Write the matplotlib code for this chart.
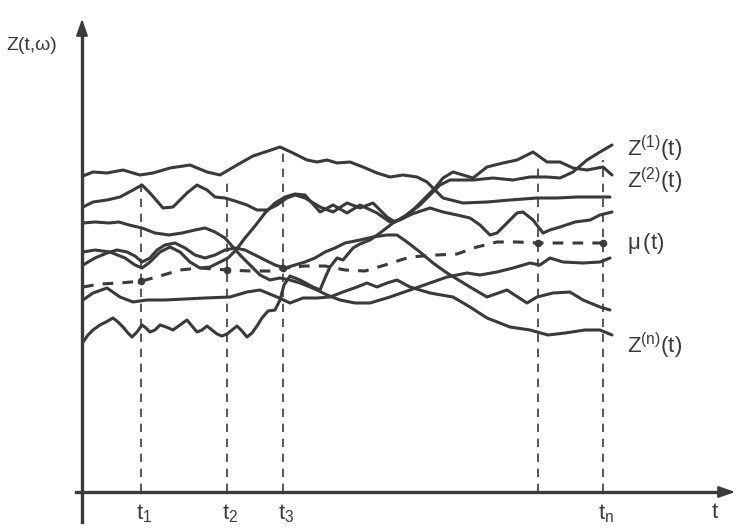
import numpy as np
import matplotlib
matplotlib.use("Agg")
import matplotlib.pyplot as plt

plt.rcParams['font.family'] = ['Liberation Sans', 'DejaVu Sans']
plt.rcParams['mathtext.fontset'] = 'custom'
plt.rcParams['mathtext.rm'] = 'Liberation Sans'
plt.rcParams['mathtext.it'] = 'Liberation Sans'

# ---- realisations Z^(k)(t): time values and process values ----
c1_t = [83, 93, 107, 123, 140, 153, 170, 190, 207, 220, 237, 253, 265, 280, 293, 307, 317, 327, 337, 350, 363, 377, 390, 403, 417, 427, 435, 443, 463, 487, 510, 537, 557, 577, 610]
c1_z = [316, 320, 319, 322, 317, 319, 324, 327, 320, 317, 327, 336, 340, 345, 339, 332, 330, 332, 329, 330, 325, 319, 315, 317, 315, 310, 302, 294, 289, 290, 292, 294, 294, 295, 295]

c2_t = [83, 93, 107, 120, 133, 142, 150, 163, 173, 187, 197, 207, 215, 225, 235, 247, 257, 267, 277, 287, 295, 305, 320, 333, 347, 360, 373, 387, 395, 405, 415, 425, 435, 443, 453, 463, 473, 487, 503, 517, 533, 547, 560, 573, 587, 603, 612]
c2_z = [285, 290, 292, 295, 302, 307, 299, 284, 285, 299, 307, 302, 295, 294, 291, 287, 282, 282, 287, 294, 297, 294, 285, 280, 289, 284, 289, 275, 270, 276, 284, 294, 304, 314, 320, 317, 314, 325, 329, 332, 340, 330, 330, 324, 322, 325, 317]

c3_t = [83, 95, 109, 119, 129, 142, 155, 169, 182, 195, 205, 215, 225, 232, 240, 250, 260, 270, 280, 290, 300, 310, 317, 327, 340, 355, 370, 390, 410, 430, 447, 467, 480, 497, 513, 530, 540, 550, 563, 583, 600, 610]
c3_z = [269, 270, 269, 270, 267, 264, 259, 257, 259, 262, 264, 260, 254, 246, 237, 227, 217, 212, 214, 212, 209, 205, 202, 197, 192, 189, 189, 195, 202, 209, 215, 219, 217, 220, 224, 229, 227, 234, 230, 229, 230, 234]

c4_t = [83, 95, 110, 125, 135, 142, 150, 160, 170, 180, 190, 200, 210, 220, 228, 236, 245, 255, 265, 275, 285, 295, 305, 320, 333, 347, 360, 377, 390, 400, 412, 430, 443, 457, 470, 480, 490, 497, 507, 517, 523, 533, 543, 550, 560, 575, 590, 600, 612]
c4_z = [240, 242, 240, 234, 227, 224, 230, 240, 245, 240, 230, 224, 225, 230, 234, 242, 254, 266, 279, 289, 295, 298, 297, 280, 287, 279, 287, 279, 270, 272, 278, 284, 280, 277, 274, 267, 257, 259, 269, 279, 280, 272, 259, 262, 265, 270, 272, 277, 280]

c5_t = [83, 95, 107, 117, 127, 135, 142, 150, 157, 165, 175, 185, 195, 205, 215, 225, 235, 245, 255, 265, 275, 285, 295, 305, 315, 325, 335, 345, 360, 373, 387, 397, 407, 420, 433, 447, 470, 487, 507, 527, 537, 553, 570, 583, 600, 610]
c5_z = [227, 234, 239, 242, 240, 236, 230, 234, 242, 247, 249, 244, 237, 234, 237, 242, 244, 242, 237, 232, 227, 224, 227, 230, 234, 240, 244, 249, 252, 255, 257, 257, 250, 240, 229, 219, 205, 195, 202, 189, 195, 199, 200, 192, 185, 182]

c6_t = [83, 93, 107, 120, 133, 147, 165, 185, 205, 230, 247, 260, 277, 290, 303, 317, 330, 343, 357, 367, 377, 387, 397, 410, 430, 453, 470, 487, 510, 530, 548, 565, 585, 600, 612]
c6_z = [192, 199, 204, 195, 190, 192, 192, 193, 194, 195, 200, 202, 195, 189, 194, 194, 195, 200, 205, 209, 205, 209, 212, 205, 199, 195, 185, 174, 165, 162, 157, 159, 162, 162, 157]

c7_t = [83, 88, 93, 100, 106, 113, 118, 123, 128, 132, 137, 142, 146, 150, 155, 160, 166, 173, 180, 187, 192, 197, 202, 207, 212, 217, 222, 227, 232, 237, 242, 247, 252, 257, 262, 268, 275, 280, 284, 290, 300, 313, 320, 325, 330, 337, 343, 353, 360, 370, 380, 393, 407, 420, 430, 440, 450, 473, 493, 513, 530, 547, 560, 573, 587, 600, 612]
c7_z = [150, 157, 162, 167, 170, 174, 170, 165, 159, 155, 160, 167, 164, 160, 162, 167, 165, 162, 167, 172, 166, 160, 162, 166, 162, 158, 156, 158, 162, 166, 161, 155, 159, 166, 174, 181, 182, 192, 207, 216, 212, 205, 202, 214, 225, 234, 232, 244, 248, 252, 259, 269, 277, 287, 297, 307, 312, 312, 314, 312, 315, 315, 314, 320, 332, 340, 347]

# ---- mean function mu(t) ----
mu_t = [83, 100, 120, 142, 160, 180, 200, 227, 250, 270, 285, 305, 325, 345, 365, 385, 410, 437, 457, 477, 497, 517, 538, 560, 585, 603, 612]
mu_z = [205, 208, 209, 211, 216, 222, 224, 222, 221, 221, 224, 226, 226, 222, 221, 227, 235, 237, 238, 245, 250, 250, 249, 249, 249, 249, 250]

# ---- observation times ----
obs_t = [141, 227, 283, 538, 603]
obs_top = [309, 314, 344, 327, 332]
tick_labels = [r'$\mathrm{t_1}$', r'$\mathrm{t_2}$', r'$\mathrm{t_3}$', None, r'$\mathrm{t_n}$']

curve_labels = [r'$\mathrm{Z^{(1)}(t)}$', r'$\mathrm{Z^{(2)}(t)}$', r'$\mathrm{\mu\,(t)}$', r'$\mathrm{Z^{(n)}(t)}$']

INK = '#3a3a3a'

fig = plt.figure(figsize=(7.4, 5.28), dpi=100)
ax = fig.add_axes([0, 0, 1, 1])
ax.set_xlim(0, 740)
ax.set_ylim(-36, 492)
ax.axis('off')

T0 = 82
for tt, zz in [(c1_t, c1_z), (c2_t, c2_z), (c3_t, c3_z), (c4_t, c4_z),
               (c5_t, c5_z), (c6_t, c6_z), (c7_t, c7_z)]:
    ax.plot(tt, zz, color=INK, lw=2.2, solid_joinstyle='round', solid_capstyle='round')

ax.plot(mu_t, mu_z, color=INK, lw=2.2, dashes=(3.5, 3))

for x, top in zip(obs_t, obs_top):
    ax.plot([x, x], [0, top], color=INK, lw=1.2, dashes=(5, 4))
    ax.plot([x], [np.interp(x, mu_t, mu_z)], 'o', color=INK, ms=4.5)

# axes with arrows
ax.plot([T0, T0], [-30, 460], color=INK, lw=2.4)
ax.plot([76, 720], [0, 0], color=INK, lw=2.4)
ax.annotate('', xy=(T0, 476), xytext=(T0, 455),
            arrowprops=dict(arrowstyle='-|>,head_length=1.0,head_width=0.35', color=INK, lw=1.5))
ax.annotate('', xy=(738, 0), xytext=(715, 0),
            arrowprops=dict(arrowstyle='-|>,head_length=1.0,head_width=0.35', color=INK, lw=1.5))

ax.text(6, 447, 'Z(t,ω)', fontsize=14, color=INK, ha='left', va='center')
ax.text(627, 343, curve_labels[0], fontsize=16, color=INK, ha='left', va='center')
ax.text(627, 311, curve_labels[1], fontsize=16, color=INK, ha='left', va='center')
ax.text(627, 249, curve_labels[2], fontsize=16, color=INK, ha='left', va='center')
ax.text(627, 146, curve_labels[3], fontsize=16, color=INK, ha='left', va='center')

for x, lab in zip(obs_t, tick_labels):
    if lab:
        ax.text(x + 3, -22, lab, fontsize=16, color=INK, ha='center', va='center')
ax.text(715, -20, 't', fontsize=16, color=INK, ha='center', va='center')

fig.savefig('out.png', dpi=100)
